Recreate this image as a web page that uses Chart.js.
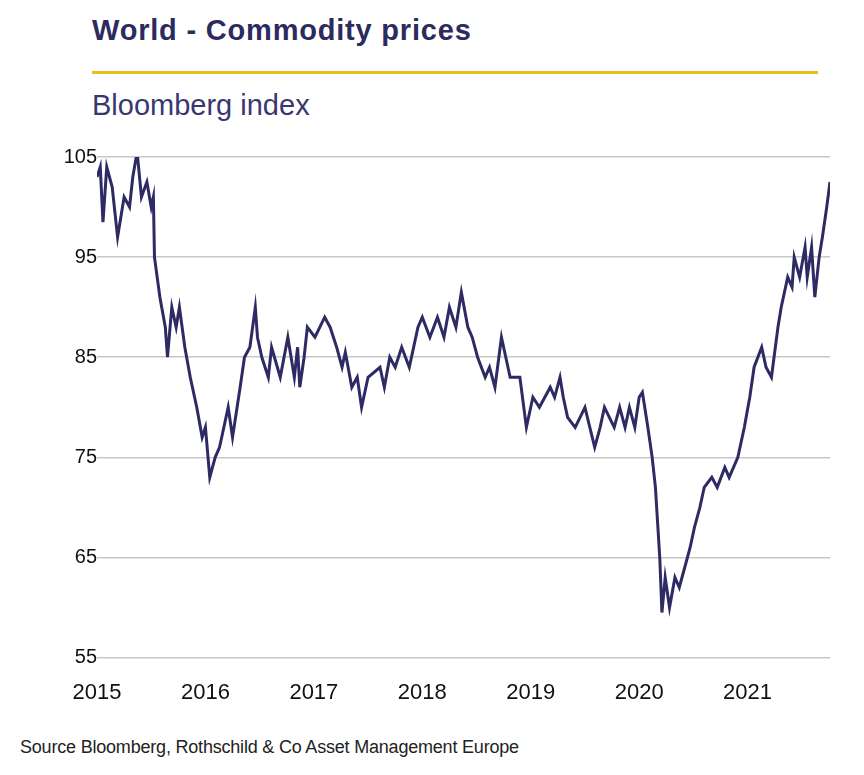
<!DOCTYPE html>
<html>
<head>
<meta charset="utf-8">
<script src="https://cdn.jsdelivr.net/npm/chart.js@4"></script>
<style>
  body { margin: 0; background: #fff; font-family: "Liberation Sans", Arial, sans-serif; }
  #title { position: absolute; left: 92px; top: 14px; font-size: 29px; font-weight: bold; color: #2d2a5e; letter-spacing: 0.8px; }
  #rule { position: absolute; left: 92px; top: 71px; width: 726px; height: 3px; background: #e8bd1c; }
  #sub { position: absolute; left: 92px; top: 89px; font-size: 29px; color: #3a3770; }
  #wrap { position: absolute; left: 40px; top: 140px; width: 800px; height: 580px; }
  #src { position: absolute; left: 20px; top: 737px; font-size: 18px; color: #222; letter-spacing: -0.2px; }
</style>
</head>
<body>
<div id="title">World - Commodity prices</div>
<div id="rule"></div>
<div id="sub">Bloomberg index</div>
<div id="wrap"><canvas id="c"></canvas></div>
<div id="src">Source Bloomberg, Rothschild &amp; Co Asset Management Europe</div>
<script>
// decimal year offsets from 2015 and index values
const yearOffsets = [0, .03, .055, .09, .14, .19, .25, .30, .33, .37, .41, .46, .50, .52, .53, .58, .63, .65, .69, .73,
  .76, .81, .86, .92, .97, 1.00, 1.04, 1.09, 1.13, 1.21, 1.25, 1.32, 1.36, 1.41, 1.46, 1.48, 1.52, 1.58, 1.61, 1.69,
  1.76, 1.82, 1.85, 1.87, 1.91, 1.94, 2.01, 2.10, 2.15, 2.21, 2.26, 2.29, 2.35, 2.40, 2.44, 2.50, 2.61, 2.65, 2.70, 2.75,
  2.81, 2.88, 2.96, 3.00, 3.07, 3.14, 3.20, 3.25, 3.31, 3.36, 3.42, 3.46, 3.51, 3.58, 3.62, 3.67, 3.73, 3.77, 3.81, 3.90,
  3.96, 4.02, 4.08, 4.18, 4.22, 4.27, 4.30, 4.34, 4.41, 4.50, 4.59, 4.64, 4.68, 4.77, 4.82, 4.87, 4.91, 4.96, 5.00, 5.03,
  5.08, 5.12, 5.15, 5.19, 5.21, 5.24, 5.28, 5.33, 5.37, 5.42, 5.47, 5.51, 5.56, 5.60, 5.67, 5.72, 5.79, 5.83, 5.91, 5.97,
  6.02, 6.06, 6.13, 6.17, 6.22, 6.28, 6.31, 6.37, 6.41, 6.43, 6.48, 6.53, 6.55, 6.59, 6.62, 6.66, 6.69, 6.73, 6.76];
const indexValues = [103, 104, 98.5, 104, 102, 97, 101, 100, 103, 105.5, 101, 102.5, 100, 101, 95, 91, 88, 85, 90, 88,
  90, 86, 83, 80, 77, 78, 73, 75, 76, 80, 77, 82, 85, 86, 90, 87, 85, 83, 86, 83,
  87, 83, 86, 82, 85, 88, 87, 89, 88, 86, 84, 85.5, 82, 83, 80, 83, 84, 82, 85, 84,
  86, 84, 88, 89, 87, 89, 87, 90, 88, 91.5, 88, 87, 85, 83, 84, 82, 87, 85, 83, 83,
  78, 81, 80, 82, 81, 83, 81, 79, 78, 80, 76, 78, 80, 78, 80, 78, 80, 78, 81, 81.5,
  78, 75, 72, 65, 59.5, 63, 60, 63, 62, 64, 66, 68, 70, 72, 73, 72, 74, 73, 75, 78,
  81, 84, 86, 84, 83, 88, 90, 93, 92, 95, 93, 96, 93, 96, 91, 95, 97, 100, 102.5];
const startYear = 2015;
const tickYears = [2015, 2016, 2017, 2018, 2019, 2020, 2021];
const yTicks = [55, 65, 75, 85, 95, 105];

const points = yearOffsets.map((o, i) => ({ x: startYear + o, y: indexValues[i] }));

new Chart(document.getElementById('c'), {
  type: 'line',
  data: {
    datasets: [{
      data: points,
      borderColor: '#2e2a63',
      borderWidth: 3,
      pointRadius: 0,
      tension: 0
    }]
  },
  options: {
    responsive: true,
    maintainAspectRatio: false,
    animation: false,
    layout: { padding: { top: 17, right: 10 } },
    plugins: { legend: { display: false }, tooltip: { enabled: false } },
    scales: {
      x: {
        type: 'linear',
        min: 2015,
        max: 2021.76,
        afterBuildTicks: axis => { axis.ticks = tickYears.map(v => ({ value: v })); },
        grid: { display: false },
        border: { display: false },
        ticks: { color: '#111', font: { size: 22, family: 'Liberation Sans' }, padding: 14, maxRotation: 0,
          callback: v => String(v) }
      },
      y: {
        min: 55,
        max: 105,
        afterBuildTicks: axis => { axis.ticks = yTicks.map(v => ({ value: v })); },
        afterFit: axis => { axis.width = 57; },
        grid: { color: '#c8c8c8', lineWidth: 1.5, drawTicks: false },
        border: { display: false },
        ticks: { color: '#111', font: { size: 20, family: 'Liberation Sans' }, padding: 0 }
      }
    }
  }
});
</script>
</body>
</html>
